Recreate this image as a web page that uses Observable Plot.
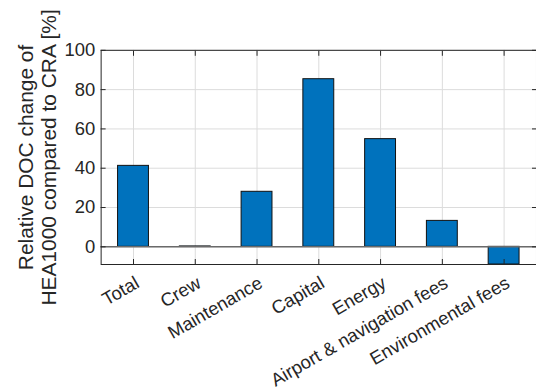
<!DOCTYPE html>
<html>
<head>
<meta charset="utf-8">
<script src="https://cdn.jsdelivr.net/npm/d3@7"></script>
<script src="https://cdn.jsdelivr.net/npm/@observablehq/plot@0.6"></script>
<style>
  html, body { margin: 0; padding: 0; background: #fff; overflow: hidden; }
  #chart svg { display: block; }
</style>
</head>
<body>
<div id="chart"></div>
<script>
// Cost categories of the direct operating cost (DOC) breakdown
const categories = ["Total", "Crew", "Maintenance", "Capital", "Energy", "Airport & navigation fees", "Environmental fees"];
// Relative change of HEA1000 against CRA, in percent
const changes = [41.2, 0.2, 28.0, 85.3, 54.8, 13.2, -9.0];
const yTicks = [0, 20, 40, 60, 80, 100];
const yLabel = "Relative DOC change of\nHEA1000 compared to CRA [%]";

const data = categories.map((c, i) => ({category: c, change: changes[i]}));

const font = "'Liberation Sans', Arial, Helvetica, sans-serif";
const ink = "#262626";
const tickFont = 18.5;
const labelFont = 21;

const chart = Plot.plot({
  width: 538,
  height: 392,
  marginLeft: 101,
  marginRight: 0,
  marginTop: 50,
  marginBottom: 127,
  style: {fontFamily: font, fontSize: "18px", color: ink, background: "#fff"},
  x: {type: "band", domain: categories, paddingInner: 0.5, paddingOuter: 0.25},
  y: {domain: [-9, 100]},
  marks: [
    Plot.gridX(categories, {stroke: "#dcdcdc", strokeOpacity: 1, strokeWidth: 1}),
    Plot.gridY(yTicks, {stroke: "#dcdcdc", strokeOpacity: 1, strokeWidth: 1}),
    Plot.barY(data, {x: "category", y: "change", fill: "#0072BD", stroke: "#111", strokeWidth: 1}),
    Plot.ruleY([0], {stroke: "#6a6a6a", strokeWidth: 1.4}),
    Plot.frame({stroke: ink, strokeWidth: 1}),
    // inward tick marks on all four sides
    Plot.axisX({anchor: "bottom", tickSize: -5, tickFormat: () => "", stroke: ink, label: null}),
    Plot.axisX({anchor: "top", tickSize: -5, tickFormat: () => "", stroke: ink, label: null}),
    Plot.axisY(yTicks, {anchor: "left", tickSize: -5, tickFormat: () => "", stroke: ink, label: null}),
    Plot.axisY(yTicks, {anchor: "right", tickSize: -5, tickFormat: () => "", stroke: ink, label: null}),
    // category labels, slanted under the axis
    Plot.text(categories, {
      x: d => d, frameAnchor: "bottom", rotate: -30,
      textAnchor: "end", lineAnchor: "middle", dx: 4, dy: 17,
      fontSize: tickFont, fill: ink
    }),
    // value labels on the y axis
    Plot.axisY(yTicks, {anchor: "left", tickSize: 0, tickPadding: 6, fontSize: tickFont, fill: ink, label: null}),
    // y-axis title
    Plot.text([yLabel], {
      frameAnchor: "left", dx: -64.4, rotate: -90,
      textAnchor: "middle", lineAnchor: "middle", lineHeight: 1.11,
      fontSize: labelFont, fill: ink
    })
  ]
});

document.getElementById("chart").append(chart);
</script>
</body>
</html>
